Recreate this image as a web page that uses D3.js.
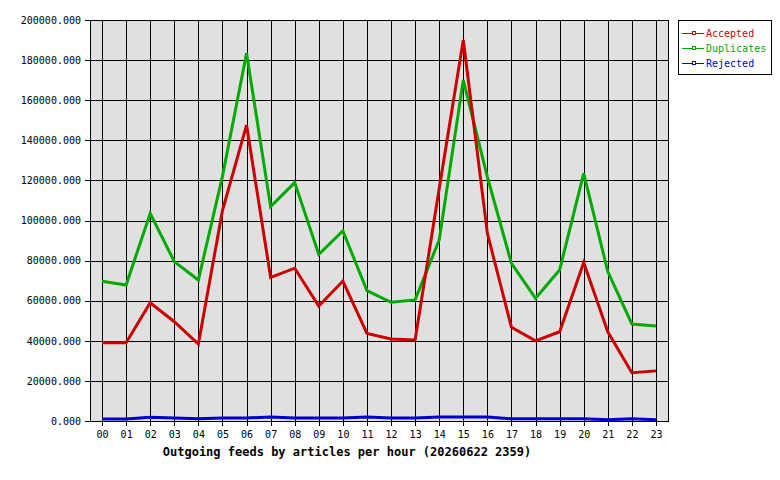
<!DOCTYPE html>
<html>
<head>
<meta charset="utf-8">
<script src="https://cdn.jsdelivr.net/npm/d3@7"></script>
<style>
  body { margin: 0; background: #fff; }
  svg text { font-family: "DejaVu Sans Mono", monospace; }
</style>
</head>
<body>
<svg width="780" height="480"></svg>
<script>
var hours = ["00","01","02","03","04","05","06","07","08","09","10","11",
             "12","13","14","15","16","17","18","19","20","21","22","23"];
var accepted = [39000, 39000, 59000, 49500, 38400, 105000, 147600, 71600, 76200, 57300, 69800, 43700,
                40900, 40400, 116000, 190000, 93600, 46700, 40000, 44500, 79000, 44500, 24100, 25000];
var duplicates = [69700, 67800, 103600, 79500, 70300, 122000, 183400, 106900, 118900, 83100, 94800, 65000,
                  59200, 60400, 90300, 170000, 121800, 78600, 61200, 75300, 123500, 74500, 48400, 47400];
var rejected = [1000, 1000, 1900, 1500, 1100, 1500, 1500, 2000, 1500, 1500, 1500, 2000,
                1500, 1500, 2000, 2000, 2000, 1100, 1100, 1100, 1100, 600, 1100, 600];
var yTicks = [0, 20000, 40000, 60000, 80000, 100000, 120000, 140000, 160000, 180000, 200000];
var seriesNames = ["Accepted", "Duplicates", "Rejected"];
var seriesColors = ["#cc0000", "#00aa00", "#0000cc"];

var margin = {top: 20, right: 112, bottom: 59, left: 90},
    width = 780 - margin.left - margin.right,
    height = 480 - margin.top - margin.bottom;

var svg = d3.select("svg");
var g = svg.append("g")
    .attr("transform", "translate(" + margin.left + "," + margin.top + ")");

var xScale = d3.scalePoint().domain(hours).range([0, width]).padding(0.5);
var yScale = d3.scaleLinear().domain([0, 200000]).range([height, 0]);

// plot background
g.append("rect")
    .attr("width", width).attr("height", height)
    .style("fill", "#e0e0e0");

// grid
g.selectAll(".hgrid").data(yTicks).enter().append("line")
    .attr("x1", 0).attr("x2", width)
    .attr("y1", function(d) { return Math.round(yScale(d)) + 0.5; })
    .attr("y2", function(d) { return Math.round(yScale(d)) + 0.5; })
    .style("stroke", "#000").style("shape-rendering", "crispEdges");
g.selectAll(".vgrid").data(hours).enter().append("line")
    .attr("y1", 0).attr("y2", height)
    .attr("x1", function(d) { return Math.round(xScale(d)) + 0.5; })
    .attr("x2", function(d) { return Math.round(xScale(d)) + 0.5; })
    .style("stroke", "#000").style("shape-rendering", "crispEdges");

// axes
var yAxis = g.append("g")
    .call(d3.axisLeft(yScale).tickValues(yTicks).tickSize(5).tickPadding(4)
      .tickFormat(function(d) { return d3.format(".3f")(d); }));
var xAxis = g.append("g")
    .attr("transform", "translate(0," + height + ")")
    .call(d3.axisBottom(xScale).tickSize(5).tickPadding(5));
[xAxis, yAxis].forEach(function(a) {
  a.select(".domain").remove();
  a.selectAll("line").style("shape-rendering", "crispEdges");
  a.selectAll("text").style("font-family", "'DejaVu Sans Mono', monospace")
    .style("font-size", "10px").style("fill", "#000");
});

g.append("rect")
    .attr("x", 0.5).attr("y", 0.5).attr("width", width).attr("height", height)
    .style("fill", "none").style("stroke", "#000").style("shape-rendering", "crispEdges");

// lines (rejected first, accepted on top)
var line = d3.line()
    .x(function(d, i) { return xScale(hours[i]); })
    .y(function(d) { return yScale(d); });

[[rejected, 2], [duplicates, 1], [accepted, 0]].forEach(function(s) {
  g.append("path")
    .datum(s[0])
    .attr("d", line)
    .style("fill", "none")
    .style("stroke", seriesColors[s[1]])
    .style("stroke-width", 3)
    .style("stroke-linejoin", "miter");
});

// legend
var legend = svg.append("g").attr("transform", "translate(678,20)");
legend.append("rect")
    .attr("x", 0.5).attr("y", 0.5).attr("width", 93).attr("height", 54)
    .style("fill", "#fff").style("stroke", "#000").style("shape-rendering", "crispEdges");
seriesNames.forEach(function(name, i) {
  var yy = 13 + i * 15;
  legend.append("line")
    .attr("x1", 4).attr("x2", 26).attr("y1", yy + 0.5).attr("y2", yy + 0.5)
    .style("stroke", seriesColors[i]).style("shape-rendering", "crispEdges");
  legend.append("rect")
    .attr("x", 14.5).attr("y", yy - 1.5).attr("width", 3).attr("height", 3)
    .style("fill", "#fff").style("stroke", seriesColors[i]).style("shape-rendering", "crispEdges");
  legend.append("text")
    .attr("x", 28).attr("y", yy + 4)
    .style("font-size", "10px").style("fill", seriesColors[i])
    .text(name);
});

// title
svg.append("text")
    .attr("x", 347).attr("y", 456)
    .attr("text-anchor", "middle")
    .style("font-size", "12px").style("font-weight", "bold")
    .text("Outgoing feeds by articles per hour (20260622 2359)");
</script>
</body>
</html>
